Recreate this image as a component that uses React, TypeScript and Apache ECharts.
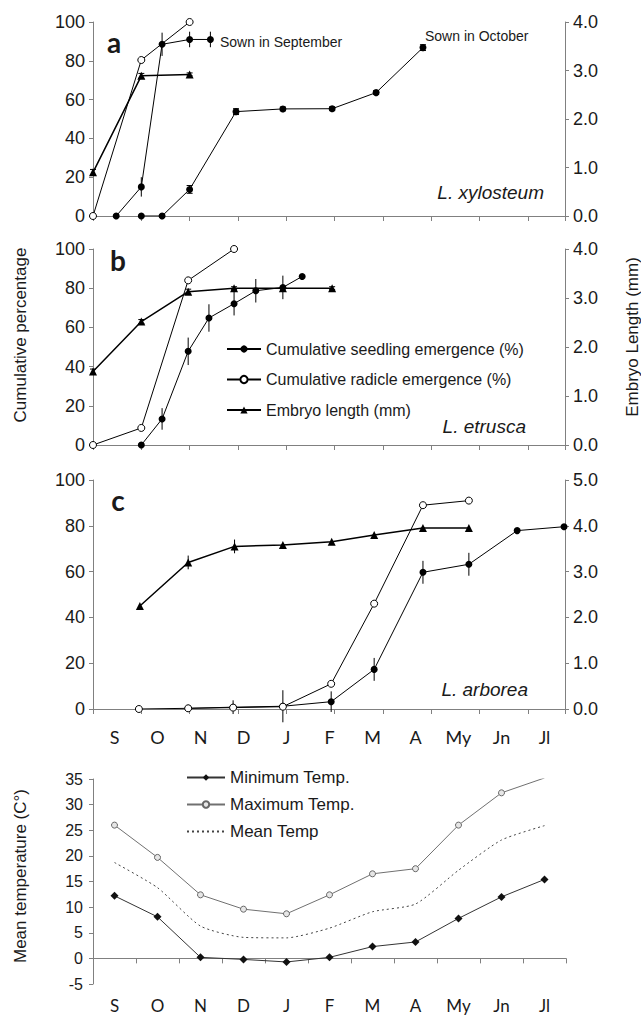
import React, { useEffect, useRef } from 'react';
import * as echarts from 'echarts';

// ---------- categories / ticks ----------
const MONTHS = ['S', 'O', 'N', 'D', 'J', 'F', 'M', 'A', 'My', 'Jn', 'Jl'];
const X_MAX = 9.77; // shared x extent of panels a-c (tick units)

// ---------- panel a : L. xylosteum ----------
const aSepSeedX = [0.48, 1, 1.43, 2, 2.43];
const aSepSeedY = [0, 15, 88.5, 91, 91];
const aSepSeedErr = [0, 5, 6, 4, 4];
const aSepRadX = [0, 1, 2];
const aSepRadY = [0, 80.4, 100];
const aSepEmbX = [0, 1, 2];
const aSepEmbMm = [0.9, 2.89, 2.92];
const aSepEmbErr = [0.06, 0.05, 0.03];
const aOctSeedX = [1, 1.43, 2, 2.96, 3.93, 4.95, 5.86, 6.83];
const aOctSeedY = [0, 0, 13.7, 53.8, 55.2, 55.3, 63.6, 86.8];
const aOctSeedErr = [0, 0, 2, 1.5, 1, 1, 1, 1.5];

// ---------- panel b : L. etrusca ----------
const bSeedX = [1, 1.43, 1.97, 2.4, 2.92, 3.37, 3.93, 4.33];
const bSeedY = [0, 13.3, 47.8, 64.8, 72.1, 78.7, 80.4, 86];
const bSeedErr = [0, 5.5, 7, 7, 6, 6, 6, 0];
const bRadX = [0, 1, 1.97, 2.92];
const bRadY = [0, 8.7, 84, 100];
const bEmbX = [0, 1, 1.97, 2.92, 3.93, 4.95];
const bEmbMm = [1.5, 2.52, 3.13, 3.2, 3.2, 3.2];
const bEmbErr = [0.05, 0.04, 0.05, 0.03, 0, 0.03];

// ---------- panel c : L. arborea ----------
const cSeedX = [1.97, 2.9, 3.93, 4.93, 5.82, 6.83, 7.78, 8.78, 9.75];
const cSeedY = [0.3, 0.8, 1.2, 3.2, 17.3, 59.7, 63.2, 77.9, 79.6];
const cSeedErr = [1.5, 3, 7, 4.5, 5, 5, 5, 0, 0];
const cRadX = [0.95, 1.97, 2.9, 3.93, 4.93, 5.82, 6.83, 7.78];
const cRadY = [0, 0.3, 0.6, 1, 11, 46, 89, 91];
const cEmbX = [0.97, 1.97, 2.93, 3.93, 4.94, 5.82, 6.83, 7.78];
const cEmbMm = [2.25, 3.2, 3.55, 3.58, 3.65, 3.8, 3.95, 3.95];
const cEmbErr = [0, 0.15, 0.15, 0, 0, 0, 0, 0];

// ---------- panel d : temperatures ----------
const tMin = [12.2, 8.1, 0.2, -0.2, -0.7, 0.2, 2.3, 3.2, 7.8, 12, 15.4];
const tMax = [26, 19.7, 12.4, 9.6, 8.7, 12.4, 16.5, 17.5, 26, 32.3, 35.2];
const tMean = [18.7, 13.8, 6.3, 4.1, 4.0, 5.9, 9.1, 10.6, 17.2, 23.1, 25.9];

const SEED = 'Cumulative seedling emergence (%)';
const RAD = 'Cumulative radicle emergence (%)';
const EMB = 'Embryo length (mm)';

const FONT = '"Liberation Sans", Arial, sans-serif';
const LATO = 'Lato, "Open Sans", sans-serif';
const AX = '#808080';
const INK = '#1a1a1a';

const pts = (xs: number[], ys: number[]) => xs.map((x, i) => [x, ys[i]]);

function lineS(name: string, xs: number[], ys: number[], xi: number, yi: number, kind: string) {
  const sym =
    kind === 'seed'
      ? { symbol: 'circle', symbolSize: 7, itemStyle: { color: '#000' } }
      : kind === 'rad'
      ? { symbol: 'circle', symbolSize: 7, itemStyle: { color: '#fff', borderColor: '#000', borderWidth: 1 } }
      : { symbol: 'triangle', symbolSize: 8, itemStyle: { color: '#000' } };
  return {
    type: 'line',
    name,
    data: pts(xs, ys),
    xAxisIndex: xi,
    yAxisIndex: yi,
    ...sym,
    showSymbol: true,
    lineStyle: { color: '#000', width: kind === 'emb' ? 1.5 : 1 },
    z: 3,
  };
}

function errS(xs: number[], ys: number[], es: number[], xi: number, yi: number, cap: number) {
  return {
    type: 'custom',
    xAxisIndex: xi,
    yAxisIndex: yi,
    silent: true,
    z: 2,
    data: xs.map((x, i) => [x, ys[i], es[i]]).filter((d) => d[2] > 0),
    renderItem: (_p: any, api: any) => {
      const x = api.value(0);
      const y = api.value(1);
      const e = api.value(2);
      const p1 = api.coord([x, y - e]);
      const p2 = api.coord([x, y + e]);
      const st = { stroke: '#000', lineWidth: 1 };
      const children: any[] = [
        { type: 'line', shape: { x1: p1[0], y1: p1[1], x2: p2[0], y2: p2[1] }, style: st },
      ];
      if (cap > 0) {
        children.push({ type: 'line', shape: { x1: p1[0] - cap, y1: p1[1], x2: p1[0] + cap, y2: p1[1] }, style: st });
        children.push({ type: 'line', shape: { x1: p2[0] - cap, y1: p2[1], x2: p2[0] + cap, y2: p2[1] }, style: st });
      }
      return { type: 'group', children };
    },
  };
}

const valX = (gi: number) => ({
  type: 'value',
  gridIndex: gi,
  min: 0,
  max: X_MAX,
  interval: 1,
  axisLine: { show: true, onZero: false, lineStyle: { color: AX, width: 1 } },
  axisTick: { show: true, inside: false, length: 5, lineStyle: { color: AX } },
  axisLabel: { show: false },
  splitLine: { show: false },
});

const leftY = (gi: number) => ({
  type: 'value',
  gridIndex: gi,
  position: 'left',
  min: 0,
  max: 100,
  interval: 20,
  axisLine: { show: true, lineStyle: { color: AX } },
  axisTick: { show: true, length: 4, lineStyle: { color: AX } },
  axisLabel: { fontSize: 18, fontFamily: FONT, color: INK, margin: 8 },
  splitLine: { show: false },
});

const rightY = (gi: number, max: number) => ({
  type: 'value',
  gridIndex: gi,
  position: 'right',
  min: 0,
  max,
  interval: 1,
  axisLine: { show: true, lineStyle: { color: AX } },
  axisTick: { show: true, length: 4, lineStyle: { color: AX } },
  axisLabel: { fontSize: 18, fontFamily: FONT, color: INK, margin: 8, formatter: (v: number) => v.toFixed(1) },
  splitLine: { show: false },
});

const txt = (text: string, x: number, y: number, font: string, align = 'left', rotation = 0) => ({
  type: 'text',
  x,
  y,
  rotation,
  silent: true,
  style: { text, font, fill: INK, align, verticalAlign: 'middle' },
});

export default function App() {
  const ref = useRef<HTMLDivElement>(null);
  useEffect(() => {
    if (!ref.current) return;
    const chart = echarts.init(ref.current, null, { renderer: 'svg' });
    const option: any = {
      animation: false,
      backgroundColor: '#fff',
      textStyle: { fontFamily: FONT },
      grid: [
        { left: 93, top: 22, width: 472, height: 194, outerBoundsMode: 'none' },
        { left: 93, top: 249, width: 472, height: 196, outerBoundsMode: 'none' },
        { left: 93, top: 480, width: 472, height: 229, outerBoundsMode: 'none' },
        { left: 93, top: 708, width: 473, height: 1, outerBoundsMode: 'none' },
        { left: 93, top: 779, width: 473, height: 205, outerBoundsMode: 'none' },
      ],
      xAxis: [
        valX(0),
        valX(1),
        valX(2),
        {
          type: 'category',
          gridIndex: 3,
          data: MONTHS,
          boundaryGap: true,
          axisLine: { show: false },
          axisTick: { show: false },
          axisLabel: { fontSize: 18, fontFamily: LATO, color: INK, margin: 19, interval: 0 },
        },
        {
          type: 'category',
          gridIndex: 4,
          data: MONTHS,
          boundaryGap: true,
          axisLine: { show: true, lineStyle: { color: AX } },
          axisTick: { show: true, length: 5, lineStyle: { color: AX } },
          axisLabel: { fontSize: 17, fontFamily: LATO, color: INK, margin: 13, interval: 0 },
        },
      ],
      yAxis: [
        leftY(0),
        rightY(0, 4),
        leftY(1),
        rightY(1, 4),
        leftY(2),
        rightY(2, 5),
        { type: 'value', gridIndex: 3, show: false, min: 0, max: 1 },
        {
          type: 'value',
          gridIndex: 4,
          min: -5,
          max: 35,
          interval: 5,
          axisLine: { show: true, lineStyle: { color: AX } },
          axisTick: { show: true, length: 4, lineStyle: { color: AX } },
          axisLabel: { fontSize: 16, fontFamily: FONT, color: INK, margin: 10 },
          splitLine: { show: false },
        },
      ],
      legend: [
        {
          data: [SEED, RAD, EMB],
          orient: 'vertical',
          left: 221,
          top: 336,
          itemWidth: 34,
          itemHeight: 9,
          itemGap: 14.5,
          selectedMode: false,
          textStyle: { fontSize: 16, fontFamily: FONT, color: INK },
        },
        {
          data: ['Minimum Temp.', 'Maximum Temp.', 'Mean Temp'],
          orient: 'vertical',
          left: 181,
          top: 764,
          itemWidth: 38,
          itemHeight: 8,
          itemGap: 10,
          selectedMode: false,
          textStyle: { fontSize: 17, fontFamily: FONT, color: INK },
        },
      ],
      series: [
        // panel a
        errS(aSepSeedX, aSepSeedY, aSepSeedErr, 0, 0, 0),
        errS(aSepEmbX, aSepEmbMm, aSepEmbErr, 0, 1, 3),
        errS(aOctSeedX, aOctSeedY, aOctSeedErr, 0, 0, 3),
        lineS(SEED, aSepSeedX, aSepSeedY, 0, 0, 'seed'),
        lineS(RAD, aSepRadX, aSepRadY, 0, 0, 'rad'),
        lineS(EMB, aSepEmbX, aSepEmbMm, 0, 1, 'emb'),
        lineS(SEED, aOctSeedX, aOctSeedY, 0, 0, 'seed'),
        // panel b
        errS(bSeedX, bSeedY, bSeedErr, 1, 2, 0),
        errS(bEmbX, bEmbMm, bEmbErr, 1, 3, 3),
        lineS(SEED, bSeedX, bSeedY, 1, 2, 'seed'),
        lineS(RAD, bRadX, bRadY, 1, 2, 'rad'),
        lineS(EMB, bEmbX, bEmbMm, 1, 3, 'emb'),
        // panel c
        errS(cSeedX, cSeedY, cSeedErr, 2, 4, 0),
        errS(cEmbX, cEmbMm, cEmbErr, 2, 5, 0),
        lineS(SEED, cSeedX, cSeedY, 2, 4, 'seed'),
        lineS(RAD, cRadX, cRadY, 2, 4, 'rad'),
        lineS(EMB, cEmbX, cEmbMm, 2, 5, 'emb'),
        // panel d
        {
          type: 'line',
          name: 'Minimum Temp.',
          data: tMin,
          xAxisIndex: 4,
          yAxisIndex: 7,
          symbol: 'diamond',
          symbolSize: 8,
          itemStyle: { color: '#111' },
          lineStyle: { color: '#333', width: 1 },
        },
        {
          type: 'line',
          name: 'Maximum Temp.',
          data: tMax.map((v, i) => (i === tMax.length - 1 ? { value: v, symbol: 'none' } : v)),
          xAxisIndex: 4,
          yAxisIndex: 7,
          symbol: 'circle',
          symbolSize: 6,
          itemStyle: { color: '#e6e6e6', borderColor: '#666', borderWidth: 1 },
          lineStyle: { color: '#707070', width: 1 },
        },
        {
          type: 'line',
          name: 'Mean Temp',
          data: tMean,
          xAxisIndex: 4,
          yAxisIndex: 7,
          symbol: 'none',
          smooth: 0.2,
          itemStyle: { color: 'rgba(0,0,0,0)', borderColor: 'rgba(0,0,0,0)' },
          lineStyle: { color: '#444', width: 1, type: [2, 3] },
        },
      ],
      graphic: [
        txt('a', 114, 42, `bold 28px ${LATO}`, 'center'),
        txt('b', 118, 260, `bold 28px ${LATO}`, 'center'),
        txt('c', 118, 500, `bold 28px ${LATO}`, 'center'),
        txt('Sown in September', 220, 42, `14px ${FONT}`),
        txt('Sown in October', 425, 36, `14px ${FONT}`),
        txt('L. xylosteum', 544, 192, `italic 19px ${FONT}`, 'right'),
        txt('L. etrusca', 526, 426, `italic 19px ${FONT}`, 'right'),
        txt('L. arborea', 528, 689, `italic 19px ${FONT}`, 'right'),
        txt('Cumulative percentage', 20, 335, `17px ${FONT}`, 'center', Math.PI / 2),
        txt('Embryo Length (mm)', 632, 337, `17px ${FONT}`, 'center', Math.PI / 2),
        txt('Mean temperature (C°)', 20, 876, `17px ${FONT}`, 'center', Math.PI / 2),
      ],
    };
    chart.setOption(option);
    return () => chart.dispose();
  }, []);
  return (
    <div
      ref={ref}
      style={{ position: 'absolute', left: 0, top: 0, width: 641, height: 1019, background: '#fff' }}
    />
  );
}
